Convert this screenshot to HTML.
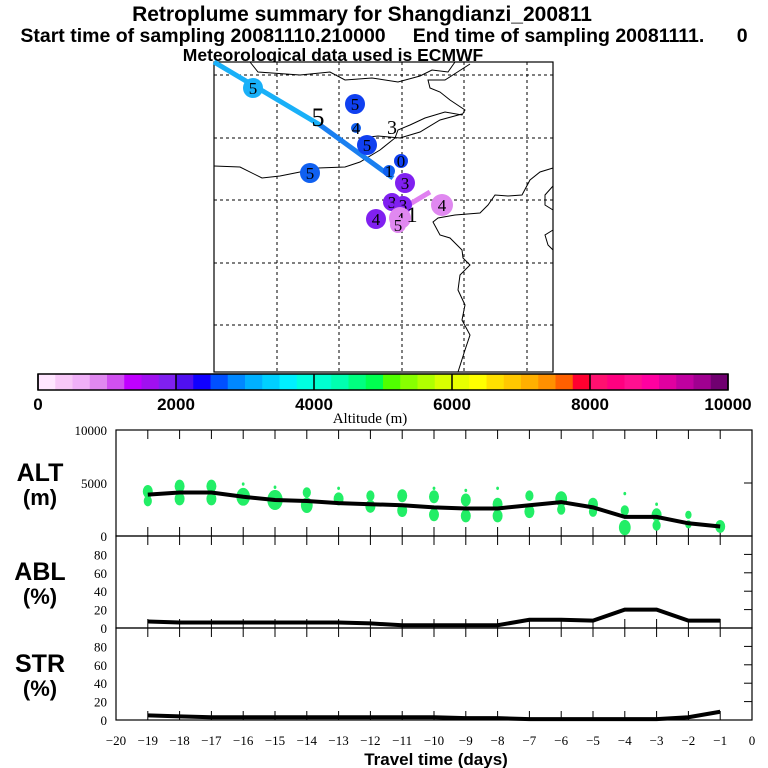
<!DOCTYPE html>
<html><head><meta charset="utf-8"><style>
body{margin:0;background:#fff}
svg{display:block;font-family:"Liberation Sans",sans-serif}
</style></head><body>
<svg id="s" width="768" height="768" viewBox="0 0 768 768">
<text x="362" y="21" text-anchor="middle" font-size="21" font-weight="bold">Retroplume summary for Shangdianzi_200811</text>
<text x="384" y="42" text-anchor="middle" font-size="19.5" font-weight="bold" xml:space="preserve">Start time of sampling 20081110.210000     End time of sampling 20081111.      0</text>
<text x="333" y="61" text-anchor="middle" font-size="17.5" font-weight="bold">Meteorological data used is ECMWF</text>
<g id="map"></g>
<g id="cbar"></g>
<g id="panels"></g>
</svg>
<script>
const NS="http://www.w3.org/2000/svg";
function mk(p,t,a){const e=document.createElementNS(NS,t);for(const k in a)e.setAttribute(k,a[k]);p.appendChild(e);return e;}

// ---- data ----
const days=[-19,-18,-17,-16,-15,-14,-13,-12,-11,-10,-9,-8,-7,-6,-5,-4,-3,-2,-1];
const altMean=[3900,4100,4100,3700,3400,3300,3100,3000,2900,2700,2600,2600,2900,3200,2700,1800,1800,1200,900];
const ablPct=[7,6,6,6,6,6,6,5,3,3,3,3,9,9,8,20,20,8,8];
const strPct=[5,4,3,3,3,3,3,3,3,3,2,2,1,1,1,1,1,3,9];
const blobDay=[-19,-19,-18,-18,-17,-17,-16,-16,-15,-15,-14,-14,-13,-13,-12,-12,-11,-11,-10,-10,-10,-9,-9,-9,-8,-8,-8,-7,-7,-6,-6,-5,-5,-4,-4,-4,-3,-3,-3,-2,-2,-1];
const blobAlt=[4200,3300,4700,3500,4700,3500,4900,3700,4600,3400,4100,2900,4500,3500,3800,2800,3800,2400,4500,3700,2000,4300,3400,1900,4500,3000,1900,3800,2300,3500,2500,3000,2300,4000,2400,800,3000,2000,1000,2000,1100,900];
const blobSize=[5,4,5,5,5,5,1,7,1,8,4,6,1,5,4,5,5,5,1,5,5,1,5,5,1,5,5,4,5,6,4,5,4,1,4,6,1,5,4,3,3,5];
const cbColors=["#ffe6ff","#f8c8f8","#f0b0f8","#e088f0","#d050f0","#c000ff","#a010f0","#8020f0",
"#5010f0","#1000ff","#0050ff","#0088ff","#00b0ff","#00d0ff","#00f0ff","#00ffe0",
"#00ffd0","#00ffb0","#00ff80","#00ff50","#50ff00","#88ff00","#b0ff00","#d8ff00",
"#e8ff00","#ffff00","#ffe000","#ffc800","#ffb000","#ff9000","#ff6000","#ff0030",
"#ff1070","#ff0080","#ff1090","#ff00a0","#e000a0","#c000a0","#a00090","#700070"];
const cbTicks=[0,2000,4000,6000,8000,10000];
const xTicks=[-20,-19,-18,-17,-16,-15,-14,-13,-12,-11,-10,-9,-8,-7,-6,-5,-4,-3,-2,-1,0];
const pctTicks=[0,20,40,60,80];

// ---- map ----
const map=document.getElementById('map');
mk(map,'rect',{x:214,y:62,width:339,height:310,fill:'#fff',stroke:'#000','stroke-width':1.2});
[277,339,402,464,527].forEach(x=>mk(map,'line',{x1:x,y1:62,x2:x,y2:372,stroke:'#000','stroke-dasharray':'3,3','stroke-width':1}));
[75,138,200,263,325].forEach(y=>mk(map,'line',{x1:214,y1:y,x2:553,y2:y,stroke:'#000','stroke-dasharray':'3,3','stroke-width':1}));
const coast=[
"M250,62 L258,72 L300,75 L330,72 L345,80 L372,78 L398,82 L420,76 L432,70 L448,72 L455,62",
"M214,166 L240,167 L262,178 L280,176 L300,172 L318,168 L345,167 L360,162 L380,150 L395,138 L398,130 L410,125 L425,118 L445,112 L462,115 L465,110 L450,100 L440,92 L430,88 L428,80 L445,80 L470,64",
"M360,138 L378,136 L400,138 L420,132 L440,120 L462,114",
"M553,168 L540,172 L530,180 L522,195 L508,196 L495,195 L488,205 L480,213 L455,215 L438,218 L433,222 L440,235 L450,238 L462,250 L463,258 L470,265 L460,275 L458,290 L465,305 L462,320 L470,335 L465,350 L458,372",
"M553,186 L545,195 L545,205 L553,210",
"M553,230 L545,235 L548,245 L553,250"];
coast.forEach(d=>mk(map,'path',{d:d,fill:'none',stroke:'#000','stroke-width':1}));
mk(map,'line',{x1:214,y1:62,x2:320,y2:125,stroke:'#19b0f8','stroke-width':5});
mk(map,'line',{x1:320,y1:125,x2:393,y2:178,stroke:'#1a7ff0','stroke-width':5});
mk(map,'line',{x1:400,y1:210,x2:430,y2:192,stroke:'#e080f0','stroke-width':5});
const mk1=[[253,88,'#19b0f8',10,'5'],[355,104,'#1040f0',10,'5'],[356,128,'#1060f0',5,'4'],[367,145,'#1040f0',10,'5'],[310,173,'#1060f0',10,'5'],[401,161,'#1040f0',7,'0'],[389,171,'#1060f0',6,'1'],[405,183,'#8020f0',10,'3'],[392,202,'#8020f0',9,'3'],[403,205,'#8020f0',9,'3'],[376,219,'#8020f0',10,'4'],[442,205,'#e088f0',11,'4'],[400,218,'#e088f0',11,'4'],[398,225,'#e088f0',8,'5']];
mk1.forEach(m=>{mk(map,'circle',{cx:m[0],cy:m[1],r:m[3],fill:m[2]});
 const t=mk(map,'text',{x:m[0],y:m[1]+6,'text-anchor':'middle','font-size':17,'font-family':'Liberation Serif,serif',fill:'#000'});t.textContent=m[4];});
[[318,126,'5',26],[392,134,'3',20],[412,222,'1',22]].forEach(m=>{const t=mk(map,'text',{x:m[0],y:m[1],'text-anchor':'middle','font-size':m[3],'font-family':'Liberation Serif,serif'});t.textContent=m[2];});

// ---- colorbar ----
const cb=document.getElementById('cbar');
const cbx=v=>38+v/10000*690;
cbColors.forEach((c,i)=>{const r=mk(cb,'rect',{x:cbx(i*250),y:374,width:690/40+0.5,height:16,fill:c});

});
mk(cb,'rect',{x:38,y:374,width:690,height:16,fill:'none',stroke:'#000','stroke-width':1.5});
cbTicks.forEach(v=>{mk(cb,'line',{x1:cbx(v),y1:374,x2:cbx(v),y2:390,stroke:'#000','stroke-width':1.5});
 const t=mk(cb,'text',{x:cbx(v),y:410,'text-anchor':'middle','font-size':17,'font-weight':'bold'});t.textContent=v;
 });
const at=mk(cb,'text',{x:370,y:423,'text-anchor':'middle','font-size':15,'font-family':'Liberation Serif,serif'});at.textContent='Altitude (m)';


// ---- panels ----
const P=document.getElementById('panels');
const L=116,R=752;
const xs=d=>L+(d+20)*(R-L)/20;
const panels=[{top:430,bot:536,max:10000,ticks:[0,5000,10000],lab:['ALT','(m)'],name:'alt'},
{top:536,bot:628,max:100,ticks:pctTicks,lab:['ABL','(%)'],name:'abl'},
{top:628,bot:720,max:100,ticks:pctTicks,lab:['STR','(%)'],name:'str'}];
panels.forEach(p=>{
 const ys=v=>p.bot-v/p.max*(p.bot-p.top);p.ys=ys;
 const g=mk(P,'g',{});
 
 
 mk(g,'rect',{x:L,y:p.top,width:R-L,height:p.bot-p.top,fill:'none',stroke:'#000','stroke-width':1.2});
 xTicks.slice(1,-1).forEach(d=>{mk(g,'line',{x1:xs(d),y1:p.top,x2:xs(d),y2:p.top+9,stroke:'#000'});mk(g,'line',{x1:xs(d),y1:p.bot,x2:xs(d),y2:p.bot-9,stroke:'#000'});});
 p.ticks.forEach(v=>{mk(g,'line',{x1:R,y1:ys(v),x2:R-8,y2:ys(v),stroke:'#000'});
  const t=mk(g,'text',{x:107,y:ys(v)+5,'text-anchor':'end','font-size':13,'font-family':'Liberation Serif,serif'});t.textContent=v;
  });
 const cy=(p.top+p.bot)/2;
 const t1=mk(g,'text',{x:40,y:cy-2,'text-anchor':'middle','font-size':25,'font-weight':'bold'});t1.textContent=p.lab[0];
 
 const t2=mk(g,'text',{x:40,y:cy+22,'text-anchor':'middle','font-size':22,'font-weight':'bold'});t2.textContent=p.lab[1];
 
});
// blobs
blobDay.forEach((d,i)=>{const r=blobSize[i];const e=mk(P,'ellipse',{cx:xs(d),cy:panels[0].ys(blobAlt[i]),rx:r*0.9+0.5,ry:r*1.2+0.5,fill:'#22ee66'});
 });
const lines=[[altMean,0,'alt-mean-line'],[ablPct,1,'abl-line'],[strPct,2,'str-line']];
lines.forEach(l=>{const p=panels[l[1]];const pts=days.map((d,i)=>xs(d)+','+p.ys(l[0][i])).join(' ');
 const e=mk(P,'polyline',{points:pts,fill:'none',stroke:'#000','stroke-width':4});
 });
xTicks.forEach(d=>{const t=mk(P,'text',{x:xs(d),y:745,'text-anchor':'middle','font-size':13,'font-family':'Liberation Serif,serif'});t.textContent=d===0?'0':'\u2212'+Math.abs(d);
 });
const xt=mk(P,'text',{x:436,y:765,'text-anchor':'middle','font-size':17,'font-weight':'bold'});xt.textContent='Travel time (days)';

</script>
</body></html>
